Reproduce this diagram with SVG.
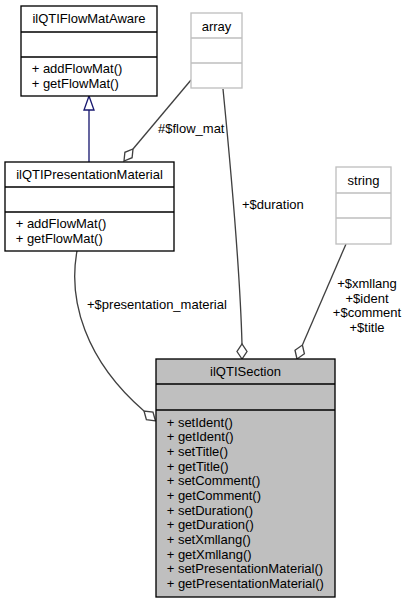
<svg xmlns="http://www.w3.org/2000/svg" width="406" height="603" viewBox="0 0 406 603">
<style>
text{font-family:"Liberation Sans",Arial,Helvetica,sans-serif;font-size:13px;fill:#000}
.t{text-anchor:middle}
.box{fill:#fff;stroke:#000;stroke-width:1.33}
.gbox{fill:#fff;stroke:#bfbfbf;stroke-width:1.33}
.sec{fill:#bfbfbf;stroke:#000;stroke-width:1.33}
.sep{stroke:#000;stroke-width:1.33;fill:none}
.gsep{stroke:#bfbfbf;stroke-width:1.33;fill:none}
.e{fill:none;stroke:#404040;stroke-width:1.33}
.d{fill:#fff;stroke:#404040;stroke-width:1.33}
.inh{fill:none;stroke:#191970;stroke-width:1.33}
.tri{fill:#fff;stroke:#191970;stroke-width:1.33}
</style>
<rect width="406" height="603" fill="#fff"/>
<g id="connectors">
<path class="inh" d="M89,162 V110"/>
<polygon class="tri" points="89,96 94,110 84,110"/>
<path class="e" d="M191,80 L133,149"/>
<polygon class="d" points="124,161 124.9,152.3 133,149 132.1,157.7"/>
<text x="158" y="133">#$flow_mat</text>
<path class="e" d="M223,89 C229,150 240,270 242,344"/>
<polygon class="d" points="242,359 237,351.5 242,344 247,351.5"/>
<text x="242" y="209">+$duration</text>
<path class="e" d="M346,244 L302.4,345"/>
<polygon class="d" points="297,359 295,350.2 302.4,345 304.4,353.8"/>
<text class="t" x="367" y="288">+$xmllang</text>
<text class="t" x="367" y="302.5">+$ident</text>
<text class="t" x="367" y="317">+$comment</text>
<text class="t" x="367" y="331.5">+$title</text>
<path class="e" d="M77,251 C68,300 85,360 144,411"/>
<polygon class="d" points="155.4,420.8 146.4,419.7 144,411 153,412.1"/>
<text x="87" y="309">+$presentation_material</text>
</g>
<g id="ilQTIFlowMatAware">
<rect class="box" x="21" y="6" width="136" height="90"/>
<text class="t" x="89" y="23">ilQTIFlowMatAware</text>
<path class="sep" d="M21,32 H157 M21,57 H157"/>
<text x="31.7" y="73">+ addFlowMat()</text>
<text x="31.7" y="87.7">+ getFlowMat()</text>
</g>
<g id="ilQTIPresentationMaterial">
<rect class="box" x="5" y="162" width="169" height="89"/>
<text class="t" x="89.5" y="179">ilQTIPresentationMaterial</text>
<path class="sep" d="M5,187 H174 M5,212 H174"/>
<text x="15.7" y="228">+ addFlowMat()</text>
<text x="15.7" y="242.7">+ getFlowMat()</text>
</g>
<g id="array">
<rect class="gbox" x="191" y="13" width="51" height="75"/>
<text class="t" x="216.5" y="30.5">array</text>
<path class="gsep" d="M191,38 H242 M191,63 H242"/>
</g>
<g id="string">
<rect class="gbox" x="336" y="167" width="55" height="77"/>
<text class="t" x="363.5" y="185">string</text>
<path class="gsep" d="M336,193 H391 M336,218 H391"/>
</g>
<g id="ilQTISection">
<rect class="sec" x="156" y="359" width="179" height="238"/>
<text class="t" x="245.5" y="376">ilQTISection</text>
<path class="sep" d="M156,384 H335 M156,410 H335"/>
<text x="166.7" y="426.5">+ setIdent()</text>
<text x="166.7" y="441.2">+ getIdent()</text>
<text x="166.7" y="455.8">+ setTitle()</text>
<text x="166.7" y="470.5">+ getTitle()</text>
<text x="166.7" y="485.2">+ setComment()</text>
<text x="166.7" y="499.8">+ getComment()</text>
<text x="166.7" y="514.5">+ setDuration()</text>
<text x="166.7" y="529.2">+ getDuration()</text>
<text x="166.7" y="543.8">+ setXmllang()</text>
<text x="166.7" y="558.5">+ getXmllang()</text>
<text x="166.7" y="573.2">+ setPresentationMaterial()</text>
<text x="166.7" y="587.8">+ getPresentationMaterial()</text>
</g>
</svg>
